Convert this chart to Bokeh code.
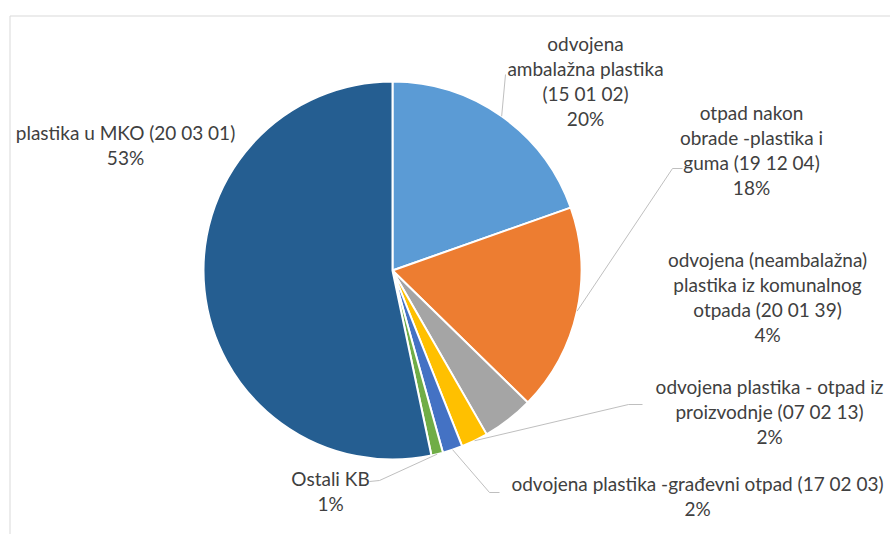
import math
from bokeh.plotting import figure
from bokeh.models import Range1d
from bokeh.core.properties import value
from bokeh.embed import file_html
from bokeh.resources import INLINE

# ---- data ----
categories = [
    "odvojena\nambalažna plastika\n(15 01 02)",
    "otpad nakon\nobrade -plastika i\nguma (19 12 04)",
    "odvojena (neambalažna)\nplastika iz komunalnog\notpada (20 01 39)",
    "odvojena plastika - otpad iz\nproizvodnje (07 02 13)",
    "odvojena plastika -građevni otpad (17 02 03)",
    "Ostali KB",
    "plastika u MKO (20 03 01)",
]
shares = [19.6, 17.7, 4.4, 2.3, 1.7, 1.0, 53.3]
colors = ["#5B9BD5", "#ED7D31", "#A5A5A5", "#FFC000", "#4472C4", "#70AD47", "#255E91"]

# ---- layout (image pixel coordinates) ----
W, H = 890, 534
CX, CY_IMG, R = 392, 270, 189
label_pos = [(585, 43), (751, 112), (767, 259), (769, 386), (697, 483), (330, 478), (125, 132)]
leader_end = [
    [(505, 74)],
    [(672, 168), (682, 168)],
    None,
    [(628, 404), (642, 404)],
    [(489, 492), (499, 492)],
    [(379, 480), (369, 481)],
    None,
]
LINE_H = 25
FONT = "Lato"
FONT_SIZE = "19px"
TEXT_COLOR = "#404040"


def Y(img_y):
    return H - img_y


p = figure(width=W, height=H, output_backend="svg", toolbar_location=None,
           x_range=Range1d(0, W), y_range=Range1d(0, H),
           min_border=0, outline_line_color=None)
p.axis.visible = False
p.grid.visible = False
p.background_fill_color = "white"

# chart frame
p.line([9.5, 9.5, 900], [Y(600), Y(15.5), Y(15.5)], line_color="#D9D9D9", line_width=1)

total = sum(shares)
cum = 0.0
starts, ends, mids = [], [], []
for s in shares:
    c0 = cum / total
    cum += s
    c1 = cum / total
    starts.append(math.pi / 2 - 2 * math.pi * c1)
    ends.append(math.pi / 2 - 2 * math.pi * c0)
    mids.append(math.pi / 2 - 2 * math.pi * (c0 + c1) / 2)

p.wedge(x=[CX] * len(shares), y=[Y(CY_IMG)] * len(shares), radius=R,
        start_angle=starts, end_angle=ends, fill_color=colors,
        line_color="white", line_width=2)

for i, pts in enumerate(leader_end):
    if pts is None:
        continue
    sx = CX + R * math.cos(mids[i])
    sy = Y(CY_IMG) + R * math.sin(mids[i])
    xs = [sx] + [q[0] for q in pts]
    ys = [sy] + [Y(q[1]) for q in pts]
    p.line(xs, ys, line_color="#BFBFBF", line_width=1)

for i, cat in enumerate(categories):
    pct = f"{round(shares[i] / total * 100)}%"
    lines = cat.split("\n") + [pct]
    x0, y0 = label_pos[i]
    p.text(x=[x0] * len(lines), y=[Y(y0 + k * LINE_H) for k in range(len(lines))],
           text=lines, text_align="center", text_baseline="middle",
           text_font=value(FONT), text_font_size=FONT_SIZE, text_color=TEXT_COLOR)

open("out.html", "w").write(file_html(p, INLINE))
